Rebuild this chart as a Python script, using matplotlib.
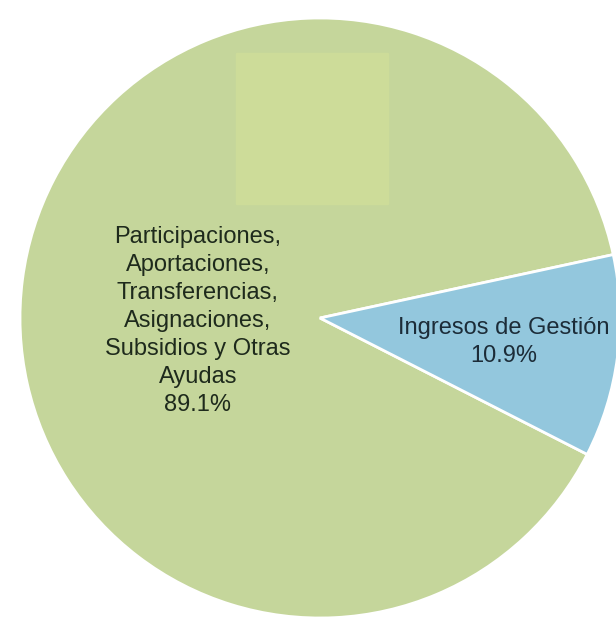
import matplotlib.pyplot as plt
from matplotlib.patches import Rectangle

categorias = ['Participaciones,\nAportaciones,\nTransferencias,\nAsignaciones,\nSubsidios y Otras\nAyudas',
              'Ingresos de Gestión']
porcentajes = [89.1, 10.9]
colores = ['#c5d69b', '#93c7dd']

fig = plt.figure(figsize=(6.16, 6.19), dpi=100)
fig.patch.set_facecolor('white')
ax = fig.add_axes([20 / 616, 1 / 619, 600 / 616, 600 / 619])

fatias, _ = ax.pie(porcentajes, colors=colores, startangle=12.2, counterclock=True,
                   radius=1.0, wedgeprops={'edgecolor': 'white', 'linewidth': 2})
ax.set_xlim(-1, 1)
ax.set_ylim(-1, 1)
ax.set_aspect('equal')
ax.axis('off')

# rotulos das fatias
ax.text(-0.407, -0.01, '{}\n{:.1f}%'.format(categorias[0], porcentajes[0]),
        ha='center', va='center', fontsize=17, family='Liberation Sans',
        color='#1e2a1c', linespacing=1.36)
ax.text(0.613, -0.08, '{}\n{:.1f}%'.format(categorias[1], porcentajes[1]),
        ha='center', va='center', fontsize=17, family='Liberation Sans',
        color='#1c2c38', linespacing=1.36)

# quadrado mais claro no topo
fig.patches.append(Rectangle((236 / 616, 1 - 204 / 619), 152 / 616, 151 / 619,
                             transform=fig.transFigure, color='#cddc99', zorder=0.5))

fig.savefig('out.png', dpi=100)
